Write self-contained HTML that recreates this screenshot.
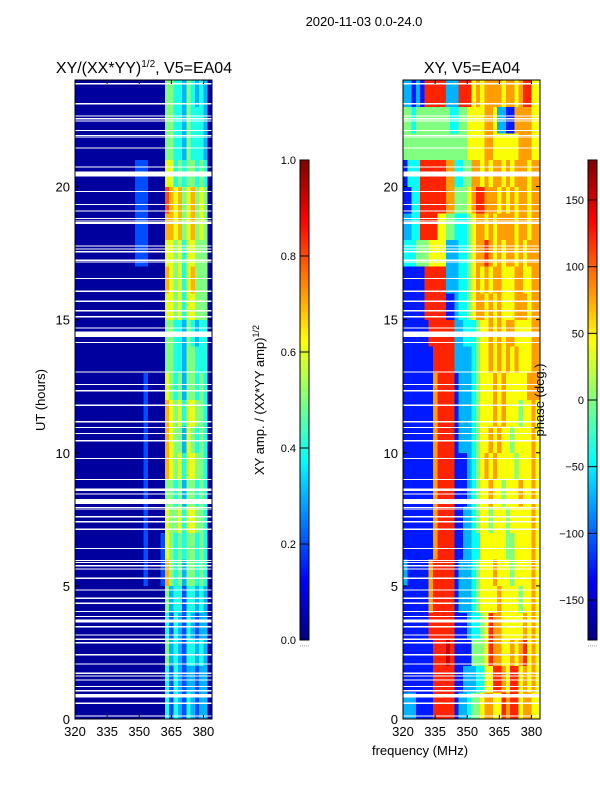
<!DOCTYPE html>
<html><head><meta charset="utf-8">
<style>
html,body{margin:0;padding:0;background:#fff;}
svg{display:block;font-family:"Liberation Sans",sans-serif;}
</style></head>
<body>
<svg id="fig" width="600" height="800" viewBox="0 0 600 800" xmlns="http://www.w3.org/2000/svg">
<text x="364" y="26" font-size="13" text-anchor="middle">2020-11-03 0.0-24.0</text>
<text x="144" y="73" font-size="16" text-anchor="middle">XY/(XX*YY)<tspan font-size="10" dy="-6">1/2</tspan><tspan dy="6">, V5=EA04</tspan></text>
<text x="472" y="73" font-size="16" text-anchor="middle">XY, V5=EA04</text>
<text x="45" y="400" font-size="13" text-anchor="middle" transform="rotate(-90 45 400)">UT (hours)</text>
<text x="420" y="755" font-size="13" text-anchor="middle">frequency (MHz)</text>
<text x="264" y="400" font-size="13" text-anchor="middle" transform="rotate(-90 264 400)">XY amp. / (XX*YY amp)<tspan font-size="9" dy="-5">1/2</tspan></text>
<g id="plots"></g>
<text x="544" y="400" font-size="13" text-anchor="middle" transform="rotate(-90 544 400)">phase (deg.)</text>
</svg>
<script>
// ---- data ----
const freqStart = [320,322,324,326,328,330,332,334,336,338,340,342,344,346,348,350,352,354,356,358,360,362,364,366,368,370,372,374,376,378,380,382];
const hourStart = [0,1,2,3,4,5,6,7,8,9,10,11,12,13,14,15,16,17,18,19,20,21,22,23];
// amplitude rows: digit -> ampLevels[digit]
const ampLevels = [0.0,0.03,0.2,0.3,0.4,0.5,0.6,0.7,0.8,0.9];
const ampRows = [
"11111111111111111111142432432331",
"11111111111111111111142432332331",
"11111111111111111111153432443431",
"11111111111111111111142432432331",
"11111111111111111111153442443431",
"11111111111111112111275453554541",
"11111111111111112111265454554541",
"11111111111111112111165564665541",
"11111111111111112111155453554541",
"11111111111111112111176564665541",
"11111111111111112111176553654541",
"11111111111111112111176564665541",
"11111111111111112111165453554541",
"11111111111111111111155443554441",
"11111111111111111111155443543441",
"11111111111111111111166564665551",
"11111111111111111111176564675551",
"11111111111111222111166564665551",
"11111111111111222111177675675651",
"11111111111111222111187675675651",
"11111111111111222111166454554541",
"11111111111111111111155443544431",
"11111111111111111111155443544431",
"11111111111111111111155443543431"
];
// phase rows: digit -> phaseLevels[digit] (fraction of -180..180)
const phaseLevels = [0.05,0.1,0.15,0.3,0.38,0.5,0.62,0.72,0.84,0.93];
const phaseRows = [
"33322228888823345567766878867766",
"22222228888822333446688768867676",
"22222228889822225556877667678676",
"22222288888822234456877666667676",
"22222278888823334566667666656676",
"32222278888823334566676665666676",
"22222227888822334466666655666676",
"22222227888822334566566656666676",
"22222227888822234566766566676676",
"22222227888822234567676666566676",
"22222227888823334566767665666676",
"22222227888823334566676766656676",
"22222227888823334566676766666777",
"22222228888833334566767676766677",
"22222288888833444566767677666677",
"22222888882234456776767666777677",
"22222888883334456767677666776677",
"44455566663334456778767677676777",
"33448888665544456776767777677677",
"22448888887755567887776767677677",
"24448888887744557767677676777677",
"55555555555555566667766666677766",
"55455555555445566667763322777766",
"33232888883338886767777677678866"
];
const flagStart = [0.10,0.57,0.80,1.04,1.20,1.45,1.60,1.70,2.05,2.38,2.85,2.98,3.14,3.45,3.62,3.83,4.02,4.33,4.52,4.83,5.27,5.62,5.74,5.86,5.93,6.39,7.11,7.39,7.58,7.87,7.93,8.08,8.43,8.56,8.61,8.98,9.77,10.43,10.71,10.93,11.15,11.77,12.31,12.55,13.02,14.12,14.34,14.67,15.09,15.31,15.67,16.05,16.53,17.15,17.21,17.53,17.63,17.75,18.59,18.69,18.78,19.06,19.31,19.80,20.37,20.71,21.43,21.84,21.90,22.09,22.44,22.53,22.63,23.09,23.84];
const flagEnd   = [0.14,0.62,0.94,1.08,1.24,1.49,1.64,1.74,2.09,2.45,2.89,3.02,3.18,3.49,3.73,3.87,4.06,4.37,4.56,4.87,5.31,5.66,5.78,5.90,5.97,6.43,7.15,7.43,7.62,7.91,7.97,8.26,8.47,8.60,8.65,9.02,9.81,10.47,10.75,10.97,11.19,11.81,12.35,12.59,13.06,14.16,14.55,14.71,15.13,15.36,15.71,16.09,16.57,17.19,17.25,17.57,17.67,17.79,18.66,18.73,18.82,19.10,19.35,19.84,20.56,20.75,21.47,21.88,21.94,22.13,22.48,22.57,22.67,23.13,23.88];
const xTicks = [320,335,350,365,380];
const yTicks = [0,5,10,15,20];
const ampTicks = [0.0,0.2,0.4,0.6,0.8,1.0];
const phaseTicks = [-150,-100,-50,0,50,100,150];

// ---- layout ----
const NS = "http://www.w3.org/2000/svg";
const PY0 = 80, PY1 = 719, FMIN = 320, FMAX = 384, HMIN = 0, HMAX = 24;
const CB_Y0 = 160, CB_Y1 = 640;
function jet(v){
  v = Math.max(0, Math.min(1, v));
  const c = t => Math.round(255*Math.max(0, Math.min(1, 1.5 - Math.abs(t))));
  return `rgb(${c(4*v-3)},${c(4*v-2)},${c(4*v-1)})`;
}
function mk(tag, attrs, parent){
  const e = document.createElementNS(NS, tag);
  for (const k in attrs) e.setAttribute(k, attrs[k]);
  parent.appendChild(e); return e;
}
const root = document.getElementById('plots');

function panel(name, x0, x1, rows, toNorm){
  const g = mk('g', {}, root);
  
  
  const xs = f => x0 + (f - FMIN) / (FMAX - FMIN) * (x1 - x0);
  const ys = h => PY1 - (h - HMIN) / (HMAX - HMIN) * (PY1 - PY0);
  const cells = mk('g', {'shape-rendering':'crispEdges'}, g);
  
  
  for (let r = 0; r < hourStart.length; r++){
    const h = hourStart[r];
    for (let c = 0; c < freqStart.length; c++){
      const f = freqStart[c];
      const d = parseInt(rows[r][c], 10);
      const rect = mk('rect', {x: xs(f), y: ys(h + 1), width: xs(f + 2) - xs(f) + 0.3, height: ys(h) - ys(h + 1) + 0.3, fill: jet(toNorm(d))}, cells);
      
      
    }
  }
  for (let i = 0; i < flagStart.length; i++){
    const fr = mk('rect', {x: x0, y: ys(flagEnd[i]), width: x1 - x0, height: Math.max(1.2, ys(flagStart[i]) - ys(flagEnd[i])), fill: '#fff'}, cells);
    
    
  }
  const frame = mk('rect', {x: x0, y: PY0, width: x1 - x0, height: PY1 - PY0, fill: 'none', stroke: '#000', 'stroke-width': 1}, g);
  
  
  for (const t of xTicks){
    const x = xs(t);
    mk('line', {x1: x, x2: x, y1: PY1, y2: PY1 - 4, stroke: '#000'}, g);
    mk('line', {x1: x, x2: x, y1: PY0, y2: PY0 + 4, stroke: '#000'}, g);
    const tx = mk('text', {x: x, y: PY1 + 17, 'font-size': 13, 'text-anchor': 'middle'}, g);
    
    
    tx.textContent = t;
  }
  for (const t of yTicks){
    const y = ys(t);
    mk('line', {x1: x0, x2: x0 + 4, y1: y, y2: y, stroke: '#000'}, g);
    mk('line', {x1: x1, x2: x1 - 4, y1: y, y2: y, stroke: '#000'}, g);
    const ty = mk('text', {x: x0 - 5, y: y + 5, 'font-size': 13, 'text-anchor': 'end'}, g);
    
    
    ty.textContent = t;
  }
}

function colorbar(name, x0, vmin, vmax, ticks, fmt){
  const g = mk('g', {}, root);
  
  
  const w = 9, n = 120;
  const ys = v => CB_Y1 - (v - vmin) / (vmax - vmin) * (CB_Y1 - CB_Y0);
  const grp = mk('g', {'shape-rendering':'crispEdges'}, g);
  for (let i = 0; i < n; i++){
    const y = CB_Y1 - (i + 1) * (CB_Y1 - CB_Y0) / n;
    mk('rect', {x: x0, y: y, width: w, height: (CB_Y1 - CB_Y0) / n + 0.5, fill: jet((i + 0.5) / n)}, grp);
  }
  mk('rect', {x: x0, y: CB_Y0, width: w, height: CB_Y1 - CB_Y0, fill: 'none', stroke: '#000'}, g);
  for (const t of ticks){
    const y = ys(t);
    mk('line', {x1: x0, x2: x0 + w, y1: y, y2: y, stroke: '#000'}, g);
    const tx = mk('text', {x: x0 - 4, y: y + 4, 'font-size': 11, 'text-anchor': 'end'}, g);
    
    
    tx.textContent = fmt(t);
  }
  mk('line', {x1: x0, x2: x0 + w, y1: CB_Y1 + 6, y2: CB_Y1 + 6, stroke: '#999', 'stroke-dasharray': '1 1'}, g);
}

panel('amplitude-panel', 75, 212, ampRows, d => ampLevels[d]);
panel('phase-panel', 403, 540, phaseRows, d => phaseLevels[d]);
colorbar('amp-colorbar', 300, 0, 1, ampTicks, t => t.toFixed(1));
colorbar('phase-colorbar', 588, -180, 180, phaseTicks, t => (t < 0 ? '\u2212' + (-t) : '' + t));
</script>
</body></html>
